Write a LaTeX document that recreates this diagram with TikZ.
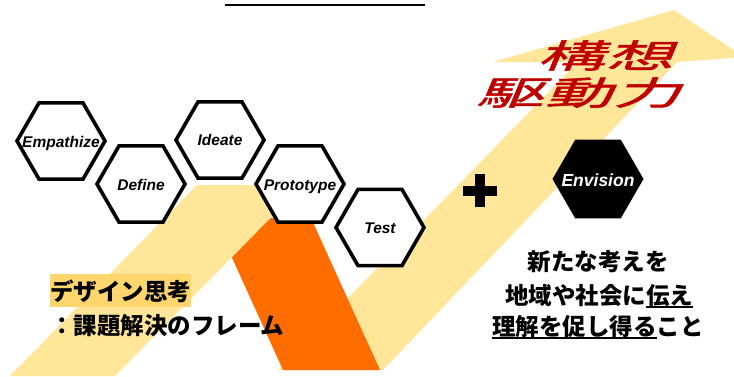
\documentclass[tikz,border=0pt]{standalone}
\usepackage{fontspec}
\setmainfont{Liberation Sans}
\newfontfamily\jp{Noto Sans CJK JP}
\newfontfamily\jpred{Noto Sans CJK JP}[FakeSlant=0.42,FakeStretch=2.05,LetterSpace=3,FakeBold=1.6]
\usetikzlibrary{shapes.geometric}
\definecolor{bandy}{HTML}{FFE699}
\definecolor{bando}{HTML}{FF6D00}
\definecolor{redt}{HTML}{C00000}
\definecolor{hl}{HTML}{FFD56E}
\newsavebox\ulbox
\newcommand\ulx[1]{\sbox\ulbox{#1}\rlap{\rule[-4.2pt]{\wd\ulbox}{1.8pt}}\usebox\ulbox}
\tikzset{
  hexbox/.style={regular polygon, regular polygon sides=6, minimum size=88pt,
    inner sep=0pt, draw=black, line width=3.6pt, fill=white},
  hexdark/.style={regular polygon, regular polygon sides=6, minimum size=91pt,
    inner sep=0pt, fill=black},
  hextext/.style={font=\fontsize{15.5}{18}\selectfont\bfseries\itshape, inner sep=0pt, anchor=base},
  envtext/.style={font=\fontsize{17.5}{20}\selectfont\bfseries\itshape, text=white, inner sep=0pt, anchor=base},
  jptext/.style={font=\jp\bfseries\fontsize{23.5}{28}\selectfont, inner sep=0pt},
  redtext/.style={font=\jpred\fontsize{33}{36}\selectfont, text=redt, inner sep=0pt, anchor=base west},
}
\begin{document}
\begin{tikzpicture}[x=1pt,y=-1pt]
\useasboundingbox (0,0) rectangle (734,376);
\fill[white] (0,0) rectangle (734,376);
% title underline (title text cut off above)
\draw[line width=2pt] (225,4.5) -- (425,4.5);
% bands
\fill[bandy] (278,370) -- (383,370) -- (677,62) -- (744,57) -- (674,10) -- (493,62) -- (578,62) -- cycle;
\fill[bando] (214,218) -- (311,218) -- (380,370) -- (283,370) -- cycle;
\fill[bandy] (197,185) -- (303,185) -- (115,376) -- (10,376) -- cycle;
% hexagons
\node[hexbox] (emp) at (61,141) {};
\node[hextext] (empt) at ([yshift=-6pt]emp.center) {Empathize};
\node[hexbox] (def) at (141,184) {};
\node[hextext] (deft) at ([yshift=-6pt]def.center) {Define};
\node[hexbox] (ide) at (220,140) {};
\node[hextext] (idet) at ([yshift=-5.5pt]ide.center) {Ideate};
\node[hexbox] (pro) at (300,184) {};
\node[hextext] (prot) at ([yshift=-6pt]pro.center) {Prototype};
\node[hexbox] (tst) at (380,227.5) {};
\node[hextext] (tstt) at ([yshift=-6pt]tst.center) {Test};
\node[hexdark] (env) at (598,179) {};
\node[envtext] (envt) at ([yshift=-7pt]env.center) {Envision};
% plus
\fill (475,174) rectangle (485,207);
\fill (463,186) rectangle (497,196);
% red text
\node[redtext] (kousou) at (537,68) {構想};
\node[redtext] (kudou) at (476,105) {駆動力};
% left text
\node[jptext, fill=hl, text height=26pt, text depth=7pt, anchor=base west] (dt) at (50,300) {デザイン思考};
\node[jptext, anchor=base west] (frame) at (50,334) {：課題解決のフレーム};
% right text
\node[jptext, anchor=base] (r1) at (598,270) {新たな考えを};
\node[jptext, anchor=base] (r2) at (599,304) {地域や社会に\ulx{伝え}};
\node[jptext, anchor=base] (r3) at (598,335) {\ulx{理解を促し得る}こと};
\end{tikzpicture}
\end{document}
